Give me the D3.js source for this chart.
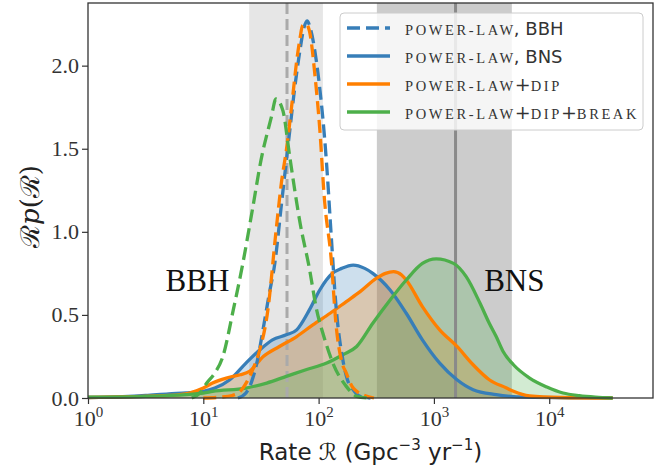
<!DOCTYPE html>
<html>
<head>
<meta charset="utf-8">
<script src="https://cdn.jsdelivr.net/npm/d3@7"></script>
<style>
  body { margin: 0; background: #fff; }
  svg { display: block; }
</style>
</head>
<body>
<svg id="chart"></svg>
<script>
var margin = {top: 3, right: 12, bottom: 69, left: 88},
    W = 665, H = 467,
    width = W - margin.left - margin.right,
    height = H - margin.top - margin.bottom;

// log10 of the rate (Gpc^-3 yr^-1) and density R p(R)
var bbhPL_logR = [1.30, 1.37, 1.42, 1.47, 1.52, 1.57, 1.62, 1.68, 1.75, 1.79, 1.84, 1.87, 1.90, 1.93, 1.98, 2.02, 2.05, 2.07, 2.11, 2.15, 2.21, 2.25, 2.30, 2.36, 2.45]
var bbhPL_val  = [0.00, 0.03, 0.10, 0.23, 0.42, 0.62, 0.81, 1.18, 1.61, 1.85, 2.10, 2.22, 2.27, 2.22, 2.03, 1.80, 1.58, 1.40, 0.97, 0.56, 0.23, 0.11, 0.05, 0.01, 0.00]

var bbhDip_logR = [1.00, 1.15, 1.25, 1.32, 1.38, 1.44, 1.49, 1.56, 1.63, 1.68, 1.72, 1.77, 1.81, 1.84, 1.86, 1.89, 1.92, 1.97, 2.01, 2.05, 2.11, 2.15, 2.20, 2.24, 2.29, 2.33, 2.40, 2.48]
var bbhDip_val  = [0.00, 0.005, 0.015, 0.04, 0.10, 0.19, 0.29, 0.53, 1.00, 1.31, 1.49, 1.78, 2.03, 2.17, 2.24, 2.25, 2.21, 1.93, 1.62, 1.20, 0.83, 0.45, 0.22, 0.15, 0.07, 0.04, 0.015, 0.00]

var bbhBrk_logR = [0.90, 0.97, 1.03, 1.10, 1.17, 1.26, 1.34, 1.43, 1.50, 1.59, 1.63, 1.69, 1.75, 1.84, 1.92, 1.98, 2.05, 2.13, 2.24, 2.33, 2.42]
var bbhBrk_val  = [0.00, 0.03, 0.09, 0.15, 0.25, 0.53, 0.80, 1.15, 1.43, 1.69, 1.80, 1.73, 1.45, 1.05, 0.78, 0.54, 0.36, 0.20, 0.07, 0.01, 0.00]

var bnsPL_logR = [0.0, 0.3, 0.5, 0.7, 0.85, 1.0, 1.1, 1.23, 1.37, 1.49, 1.6, 1.72, 1.81, 1.92, 2.01, 2.12, 2.2, 2.3, 2.4, 2.47, 2.62, 2.76, 2.9, 3.05, 3.2, 3.34, 3.54, 3.8, 4.2, 4.55]
var bnsPL_val  = [0.003, 0.008, 0.015, 0.025, 0.03, 0.04, 0.06, 0.11, 0.21, 0.29, 0.35, 0.38, 0.41, 0.53, 0.65, 0.75, 0.78, 0.80, 0.78, 0.75, 0.65, 0.51, 0.35, 0.21, 0.11, 0.05, 0.02, 0.005, 0.001, 0.0]

var bnsDip_logR = [0.0, 0.4, 0.7, 0.88, 1.0, 1.08, 1.2, 1.32, 1.40, 1.52, 1.66, 1.81, 1.95, 2.10, 2.24, 2.36, 2.50, 2.58, 2.65, 2.72, 2.76, 2.90, 3.05, 3.2, 3.34, 3.48, 3.63, 3.69, 3.83, 4.1, 4.55]
var bnsDip_val  = [0.003, 0.008, 0.015, 0.03, 0.06, 0.09, 0.12, 0.14, 0.16, 0.25, 0.31, 0.37, 0.44, 0.51, 0.58, 0.64, 0.72, 0.75, 0.76, 0.74, 0.71, 0.55, 0.41, 0.31, 0.20, 0.11, 0.06, 0.04, 0.012, 0.003, 0.0]

var bnsBrk_logR = [0.0, 0.5, 1.0, 1.08, 1.37, 1.55, 1.72, 1.89, 2.07, 2.21, 2.33, 2.47, 2.62, 2.76, 2.9, 3.02, 3.17, 3.28, 3.40, 3.48, 3.54, 3.60, 3.69, 3.83, 3.98, 4.12, 4.26, 4.40, 4.55]
var bnsBrk_val  = [0.005, 0.01, 0.03, 0.04, 0.06, 0.09, 0.13, 0.17, 0.21, 0.26, 0.31, 0.45, 0.59, 0.71, 0.81, 0.837, 0.81, 0.73, 0.57, 0.45, 0.37, 0.28, 0.20, 0.12, 0.066, 0.03, 0.014, 0.005, 0.0]

// measured rates: median and 90% band
var bbhRate = [53.2, 25.0, 109.0]
var bnsRate = [1540, 320, 4740]

var xTicks = [1, 10, 100, 1000, 10000]
var yTicks = [0.0, 0.5, 1.0, 1.5, 2.0]

var legendLabels = [
  [["POWER-LAW", "sc"], [", BBH", "sans"]],
  [["POWER-LAW", "sc"], [", BNS", "sans"]],
  [["POWER-LAW", "sc"], ["+", "plus"], ["DIP", "sc"]],
  [["POWER-LAW", "sc"], ["+", "plus"], ["DIP", "sc"], ["+", "plus"], ["BREAK", "sc"]]
]

var blue = "#377eb8", orange = "#ff7f00", green = "#4daf4a"

function zip(a, b) { return a.map(function (d, i) { return [d, b[i]] }) }

var svg = d3.select("#chart").attr("width", W).attr("height", H)
var g = svg.append("g").attr("transform", "translate(" + margin.left + "," + margin.top + ")")

var x = d3.scaleLog().domain([1, Math.pow(10, 4.9)]).range([0, width])
var y = d3.scaleLinear().domain([0, 2.377]).range([height, 0])

// bands
g.append("rect")
  .attr("x", x(bbhRate[1])).attr("y", 0)
  .attr("width", x(bbhRate[2]) - x(bbhRate[1])).attr("height", height)
  .attr("fill", "#808080").attr("fill-opacity", 0.2)
g.append("rect")
  .attr("x", x(bnsRate[1])).attr("y", 0)
  .attr("width", x(bnsRate[2]) - x(bnsRate[1])).attr("height", height)
  .attr("fill", "#808080").attr("fill-opacity", 0.4)

var area = d3.area()
  .x(function (d) { return x(Math.pow(10, d[0])) })
  .y0(height)
  .y1(function (d) { return y(d[1]) })
  .curve(d3.curveMonotoneX)
var line = d3.line()
  .x(function (d) { return x(Math.pow(10, d[0])) })
  .y(function (d) { return y(d[1]) })
  .curve(d3.curveMonotoneX)

var solid = [
  [zip(bnsPL_logR, bnsPL_val), blue],
  [zip(bnsDip_logR, bnsDip_val), orange],
  [zip(bnsBrk_logR, bnsBrk_val), green]
]
var dashed = [
  [zip(bbhPL_logR, bbhPL_val), blue],
  [zip(bbhDip_logR, bbhDip_val), orange],
  [zip(bbhBrk_logR, bbhBrk_val), green]
]

solid.forEach(function (s) {
  g.append("path").attr("d", area(s[0])).attr("fill", s[1]).attr("fill-opacity", 0.25)
})

// median lines
g.append("line")
  .attr("x1", x(bbhRate[0])).attr("x2", x(bbhRate[0]))
  .attr("y1", 0).attr("y2", height)
  .attr("stroke", "#aaaaaa").attr("stroke-width", 3).attr("stroke-dasharray", "11,5")
g.append("line")
  .attr("x1", x(bnsRate[0])).attr("x2", x(bnsRate[0]))
  .attr("y1", 0).attr("y2", height)
  .attr("stroke", "#8a8a8a").attr("stroke-width", 3)

solid.forEach(function (s) {
  g.append("path").attr("d", line(s[0])).attr("fill", "none")
    .attr("stroke", s[1]).attr("stroke-width", 3.3)
})
dashed.forEach(function (s) {
  g.append("path").attr("d", line(s[0])).attr("fill", "none")
    .attr("stroke", s[1]).attr("stroke-width", 3.3).attr("stroke-dasharray", "13,6")
})

// annotations
g.append("text").attr("x", x(8.9)).attr("y", 288)
  .attr("text-anchor", "middle")
  .attr("font-family", "Liberation Serif").attr("font-size", "31px").attr("fill", "#111")
  .text("BBH")
g.append("text").attr("x", x(4980)).attr("y", 288)
  .attr("text-anchor", "middle")
  .attr("font-family", "Liberation Serif").attr("font-size", "31px").attr("fill", "#111")
  .text("BNS")

// axes
var xAxis = g.append("g").attr("transform", "translate(0," + height + ")")
  .call(d3.axisBottom(x).tickValues(xTicks).tickFormat("").tickSizeOuter(0).tickSize(6))
var yAxis = g.append("g")
  .call(d3.axisLeft(y).tickValues(yTicks).tickFormat(d3.format(".1f")).tickSizeOuter(0).tickSize(6))

xAxis.select(".domain").remove()
yAxis.select(".domain").remove()
g.selectAll(".tick line").attr("stroke", "#333").attr("stroke-width", 1.2)

yAxis.selectAll(".tick text")
  .attr("font-family", "Liberation Serif").attr("font-size", "22px").attr("fill", "#333")
  .attr("x", -9)

xAxis.selectAll(".tick").each(function (d) {
  var t = d3.select(this).append("text")
    .attr("y", 28).attr("text-anchor", "middle")
    .attr("font-family", "Liberation Serif").attr("fill", "#333")
  t.append("tspan").attr("font-size", "22px").text("10")
  t.append("tspan").attr("font-size", "15px").attr("dy", -9).text(Math.round(Math.log10(d)))
})

// frame
g.append("rect").attr("width", width).attr("height", height)
  .attr("fill", "none").attr("stroke", "#333").attr("stroke-width", 1.3)

// axis labels
var xl = svg.append("text").attr("x", margin.left + width / 2).attr("y", 460)
  .attr("text-anchor", "middle").attr("font-family", "DejaVu Sans").attr("font-size", "23px").attr("fill", "#222")
xl.append("tspan").text("Rate ")
xl.append("tspan").text("ℛ")
xl.append("tspan").text(" (Gpc")
xl.append("tspan").attr("font-size", "15px").attr("dy", -10).text("−3")
xl.append("tspan").attr("dy", 10).text(" yr")
xl.append("tspan").attr("font-size", "15px").attr("dy", -10).text("−1")
xl.append("tspan").attr("dy", 10).text(")")

var yl = svg.append("text")
  .attr("transform", "translate(39," + (margin.top + height / 2 + 6) + ") rotate(-90)")
  .attr("text-anchor", "middle").attr("font-family", "DejaVu Serif")
  .attr("font-size", "26px").attr("fill", "#222")
yl.append("tspan").text("ℛ")
yl.append("tspan").attr("font-style", "italic").text("p")
yl.append("tspan").text("(ℛ)")

// legend
var leg = svg.append("g").attr("transform", "translate(340,13)")
leg.append("rect").attr("width", 303).attr("height", 117).attr("rx", 4)
  .attr("fill", "#fff").attr("fill-opacity", 0.8)
  .attr("stroke", "#ccc").attr("stroke-width", 1)

var legStyle = [[blue, "13,6"], [blue, null], [orange, null], [green, null]]
legendLabels.forEach(function (parts, i) {
  var yy = 15 + i * 28
  leg.append("line").attr("x1", 7).attr("x2", 50).attr("y1", yy).attr("y2", yy)
    .attr("stroke", legStyle[i][0]).attr("stroke-width", 3.3)
    .attr("stroke-dasharray", legStyle[i][1])
  var t = leg.append("text").attr("x", 65).attr("y", yy + 7).attr("fill", "#333")
  parts.forEach(function (p) {
    var sp = t.append("tspan").text(p[0])
    if (p[1] == "sc") sp.attr("font-family", "Liberation Serif").attr("font-size", "14.5px").attr("letter-spacing", "2.6px")
    else if (p[1] == "plus") sp.attr("font-family", "DejaVu Serif").attr("font-size", "19px").attr("dx", -1)
    else sp.attr("font-family", "DejaVu Sans").attr("font-size", "18px").attr("dx", -2)
  })
})
</script>
</body>
</html>
